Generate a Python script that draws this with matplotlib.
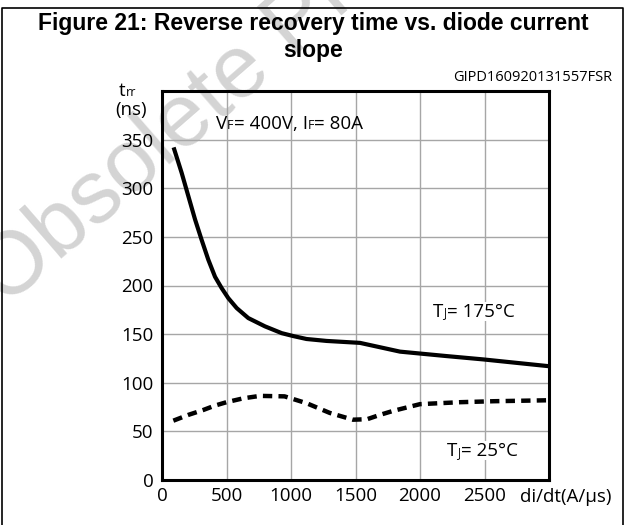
import matplotlib
matplotlib.use("Agg")
import matplotlib.pyplot as plt
from matplotlib.lines import Line2D
from matplotlib.font_manager import FontProperties

# data
x_hot = [90, 152, 204, 256, 307, 359, 411, 462, 514, 579, 669, 798, 928, 1018,
         1120, 1276, 1535, 1845, 2200, 2490, 3000]
t_hot = [342, 316, 292, 268, 247, 226.5, 209, 197.4, 187, 176.8, 166.5, 158, 151, 148,
         145, 143, 141, 132, 127.5, 124, 117]

x_cold = [88, 205, 320, 410, 500, 630, 760, 950, 1120, 1300, 1480, 1590, 1690,
          1790, 2000, 2310, 2570, 3000]
t_cold = [61, 67, 72, 76.5, 80, 84, 86.5, 86, 79, 69, 62, 62.5, 67,
          71, 78, 80, 81, 82]

x_ticks = [0, 500, 1000, 1500, 2000, 2500, 3000]
x_labels = ["0", "500", "1000", "1500", "2000", "2500", ""]
y_ticks = [0, 50, 100, 150, 200, 250, 300, 350, 400]
y_labels = ["0", "50", "100", "150", "200", "250", "300", "350", ""]

W, H = 629, 525
FONT = "Open Sans"
FS = 13.5   # main label size
FS_SUB = 9  # small letters (F, J, rr)


def px(x, y):
    # pixel position (from top-left) -> figure fraction
    return x / W, 1 - y / H


def descent_pt(size):
    # descent of a text line at this size, in points (matplotlib uses "lp")
    r = fig.canvas.get_renderer()
    _, _, d = r.get_text_width_height_descent("lp", FontProperties(family=FONT, size=size),
                                              ismath=False)
    return d * 72 / fig.dpi


def mixed_text(ax, x, y, parts, transform=None, bbox=None):
    """Draw a row of text pieces with different sizes on one baseline."""
    t = None
    prev = None
    for s, size in parts:
        if t is None:
            t = ax.text(x, y, s, fontsize=size, family=FONT, va="bottom",
                        transform=transform if transform else ax.transData,
                        bbox=bbox, zorder=5, clip_on=False)
        else:
            dy = descent_pt(prev) - descent_pt(size)
            t = ax.annotate(s, xy=(1, 0), xycoords=t, xytext=(0, dy),
                            textcoords="offset points", fontsize=size, family=FONT,
                            va="bottom", bbox=bbox, zorder=5, annotation_clip=False)
        prev = size
    return t


fig = plt.figure(figsize=(W / 100, H / 100), dpi=100)

# frame around the figure (left, top, right)
fig.add_artist(Line2D([px(2, 0)[0], px(2, 0)[0], px(623, 0)[0], px(623, 0)[0]],
                      [0, px(0, 8)[1], px(0, 8)[1], 0], color="black", lw=1.2))

fig.text(*px(313, 30), "Figure 21: Reverse recovery time vs. diode current",
         family="Liberation Sans", weight="bold", fontsize=16.5, ha="center", va="baseline")
fig.text(*px(313, 57), "slope", family="Liberation Sans", weight="bold",
         fontsize=16.5, ha="center", va="baseline")
fig.text(*px(612, 81.5), "GIPD160920131557FSR", family=FONT, fontsize=10.5,
         ha="right", va="baseline")

# watermark, behind everything
fig.text(*px(6, 308), "Obsolete Product(s)", family="Liberation Sans", fontsize=64,
         color="#d4d4d4", rotation=41, rotation_mode="anchor", ha="left",
         va="baseline", zorder=-5)

ax = fig.add_axes([162 / W, 45 / H, (549 - 162) / W, (480 - 91) / H])
ax.patch.set_alpha(0)
ax.set_xlim(0, 3000)
ax.set_ylim(0, 400)
ax.set_xticks(x_ticks)
ax.set_xticklabels(x_labels)
ax.set_yticks(y_ticks)
ax.set_yticklabels(y_labels)
ax.tick_params(length=0, labelsize=FS, pad=6)
ax.tick_params(axis="x", pad=5)
for lab in ax.get_xticklabels() + ax.get_yticklabels():
    lab.set_family(FONT)
ax.grid(True, color="#a6a6a6", lw=1.0)
for sp in ax.spines.values():
    sp.set_linewidth(2.2)

ax.plot(x_hot, t_hot, color="black", lw=3.0, solid_capstyle="butt",
        solid_joinstyle="round", zorder=4)
ax.plot(x_cold, t_cold, color="black", lw=3.2, ls=(0, (2.1, 1.4)), zorder=4)

fig.canvas.draw()
white = dict(facecolor="white", edgecolor="none", pad=0.5)
mixed_text(ax, 419, 357, [("V", FS), ("F", FS_SUB), ("= 400V, I", FS), ("F", FS_SUB),
                          ("= 80A", FS)])
mixed_text(ax, 2100, 164, [("T", FS), ("J", FS_SUB), ("= 175°C", FS)], bbox=white)
mixed_text(ax, 2209, 21, [("T", FS), ("J", FS_SUB), ("= 25°C", FS)], bbox=white)

# axis titles
mixed_text(ax, *px(119, 100), [("t", FS), ("rr", FS_SUB)], transform=fig.transFigure)
fig.text(*px(131, 110), "(ns)", family=FONT, fontsize=FS, ha="center", va="center")
fig.text(*px(520, 497), "di/dt(A/µs)", family=FONT, fontsize=FS, ha="left", va="center")

fig.savefig("out.png", dpi=100)
